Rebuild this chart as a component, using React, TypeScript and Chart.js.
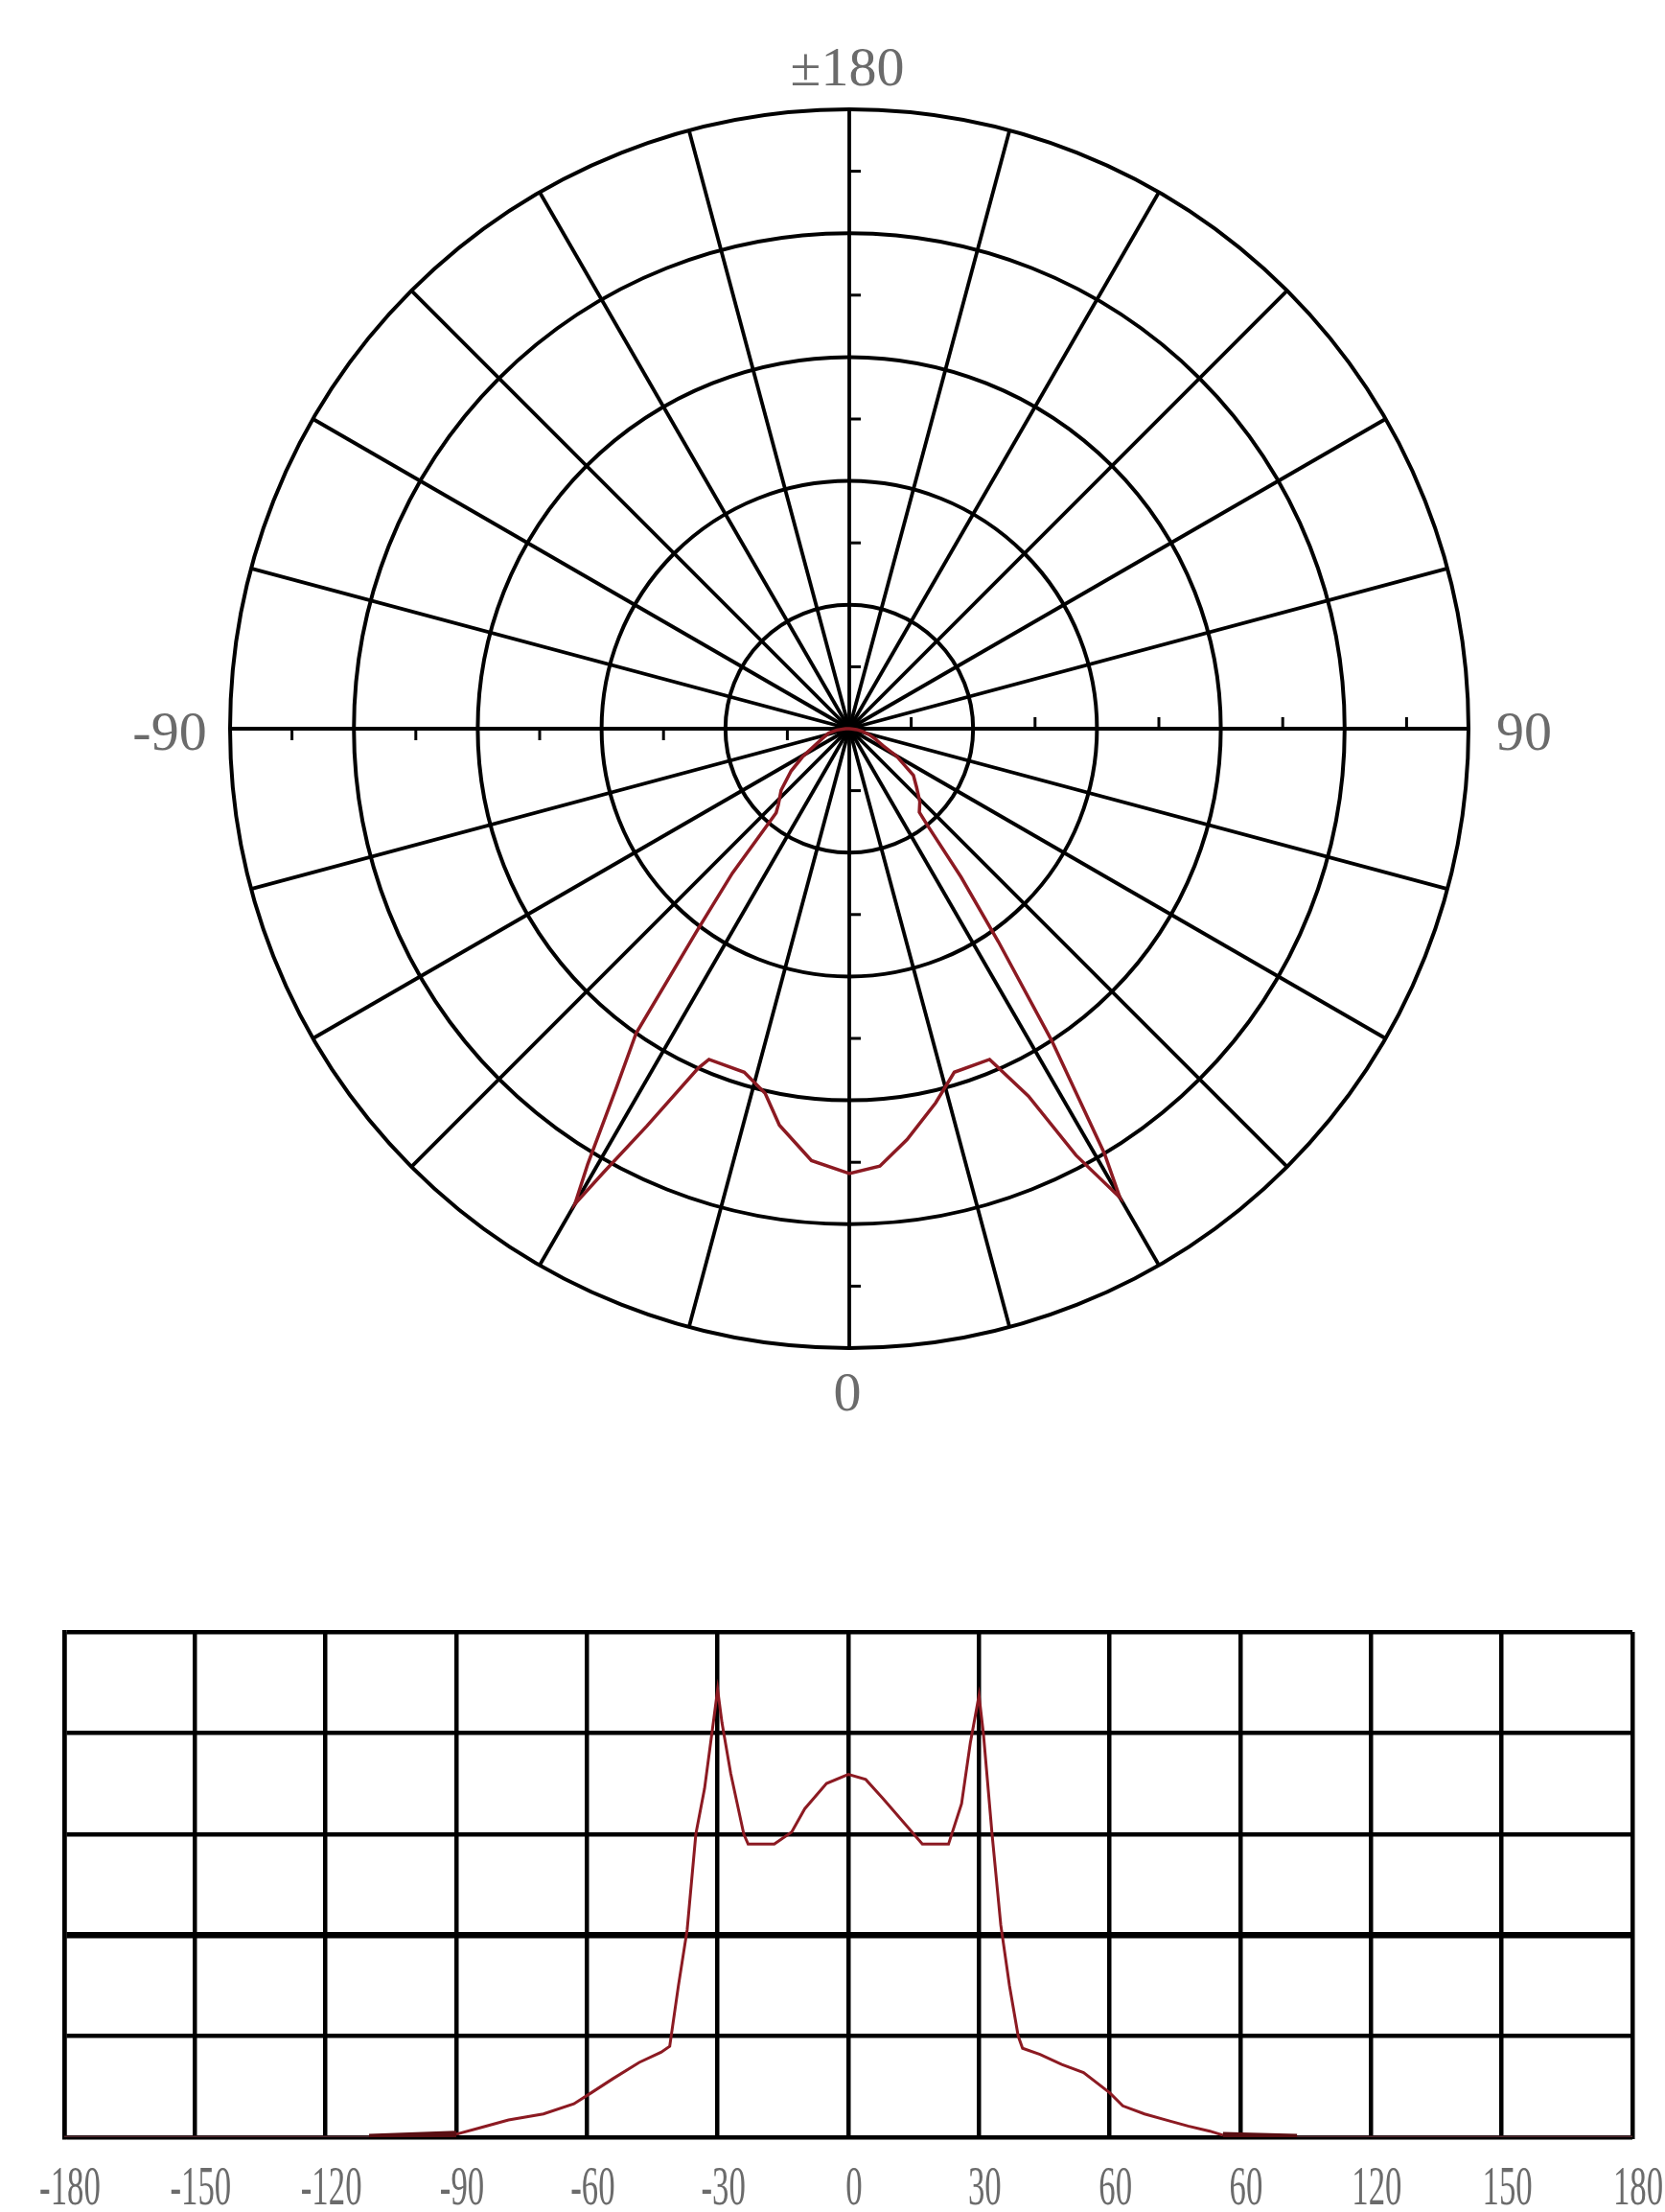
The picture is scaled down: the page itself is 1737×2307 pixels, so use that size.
import React, { useEffect, useRef } from 'react';
import { Chart, registerables } from 'chart.js';

Chart.register(...registerables);

// ---- Data ----
// Angle in degrees (gamma) and relative intensity (grid units)
const ANGLES = [
  -180, -110, -90, -84, -78, -70, -63, -59, -54, -48, -43, -41, -39, -37, -35, -33, -31, -30, -29, -27,
  -24, -23, -17, -13, -10, -5, 0, 4, 8, 13, 17, 23, 26, 28, 30, 31, 33, 35, 37, 39,
  40, 44, 49, 54, 60, 63, 68, 73, 78, 83, 86, 103, 180,
];
const INTENSITY = [
  0, 0, 0.03, 0.1, 0.17, 0.23, 0.33, 0.44, 0.58, 0.74, 0.84, 0.9, 1.5, 2.05, 3.0, 3.45, 4.1, 4.43, 4.1, 3.6,
  3.0, 2.9, 2.9, 3.02, 3.25, 3.5, 3.59, 3.54, 3.35, 3.1, 2.9, 2.9, 3.3, 3.9, 4.37, 4.0, 3.0, 2.1, 1.5, 1.0,
  0.88, 0.82, 0.72, 0.64, 0.44, 0.31, 0.23, 0.17, 0.11, 0.06, 0.02, 0, 0,
];

const X_TICKS = [-180, -150, -120, -90, -60, -30, 0, 30, 60, 90, 120, 150, 180];
const X_TICK_LABELS = ['-180', '-150', '-120', '-90', '-60', '-30', '0', '30', '60', '60', '120', '150', '180'];
const POLAR_TOP = '±180';
const POLAR_BOTTOM = '0';
const POLAR_LEFT = '-90';
const POLAR_RIGHT = '90';
const RING_MAX = 5;
const MINOR_TICKS = [0.5, 1.5, 2.5, 3.5, 4.5];
const SPOKE_STEP = 15;

const CURVE = '#8c1a22';
const CURVE_DARK = '#5a0e12';
const TEXT = '#6b6b6b';
const FONT = '58px "Liberation Serif", "Times New Roman", serif';

// radar slots: one per degree, index i sits i degrees clockwise from the bottom (left = -90)
const RADAR_LABELS = Array.from({ length: 360 }, (_, i) => String(i));
const RADAR_DATA: (number | null)[] = new Array(360).fill(null);
ANGLES.forEach((a, k) => {
  const idx = (((-a) % 360) + 360) % 360;
  RADAR_DATA[idx] = INTENSITY[k];
});

const polarDecor = {
  id: 'polarDecor',
  afterDraw(chart: any) {
    const s = chart.scales.r;
    const ctx = chart.ctx;
    const xc = s.xCenter;
    const yc = s.yCenter;
    const R = s.drawingArea;
    ctx.save();
    ctx.strokeStyle = '#000';
    ctx.lineWidth = 3;
    const seg = (x1: number, y1: number, x2: number, y2: number) => {
      ctx.beginPath();
      ctx.moveTo(x1, y1);
      ctx.lineTo(x2, y2);
      ctx.stroke();
    };
    MINOR_TICKS.forEach((v) => {
      const d = s.getDistanceFromCenterForValue(v);
      seg(xc, yc - d, xc + 12, yc - d);
      seg(xc, yc + d, xc + 12, yc + d);
      seg(xc - d, yc, xc - d, yc + 12);
      seg(xc + d, yc, xc + d, yc - 12);
    });
    ctx.fillStyle = TEXT;
    ctx.font = FONT;
    ctx.textAlign = 'center';
    ctx.textBaseline = 'alphabetic';
    ctx.fillText(POLAR_TOP, xc - 2, yc - R - 25);
    ctx.fillText(POLAR_BOTTOM, xc - 2, yc + R + 65);
    ctx.fillText(POLAR_LEFT, xc - R - 63, yc + 22);
    ctx.fillText(POLAR_RIGHT, xc + R + 58, yc + 22);
    ctx.restore();
  },
};

const xLabelPlugin = {
  id: 'xLabels',
  afterDraw(chart: any) {
    const xs = chart.scales.x;
    const ctx = chart.ctx;
    ctx.save();
    ctx.fillStyle = TEXT;
    ctx.font = FONT;
    ctx.textAlign = 'center';
    ctx.textBaseline = 'alphabetic';
    X_TICKS.forEach((v, i) => {
      const px = xs.getPixelForValue(v);
      ctx.save();
      ctx.translate(px + 6, chart.chartArea.bottom + 70);
      ctx.scale(0.6, 1);
      ctx.fillText(X_TICK_LABELS[i], 0, 0);
      ctx.restore();
    });
    ctx.restore();
  },
};

const isOuterZero = (c: any) => c.p1.parsed.x <= -110 || c.p0.parsed.x >= 103;
const isNearZero = (c: any) => !isOuterZero(c) && c.p0.parsed.y <= 0.03 && c.p1.parsed.y <= 0.03;

function PolarChart() {
  const ref = useRef<HTMLCanvasElement | null>(null);
  useEffect(() => {
    if (!ref.current) return;
    const chart = new Chart(ref.current, {
      type: 'radar',
      data: {
        labels: RADAR_LABELS,
        datasets: [
          {
            data: RADAR_DATA as any,
            spanGaps: true,
            fill: false,
            borderColor: CURVE,
            borderWidth: 3.5,
            pointRadius: 0,
          },
        ],
      },
      options: {
        responsive: false,
        animation: false,
        events: [],
        layout: { padding: { left: 140, right: 140, top: 94, bottom: 94 } },
        plugins: { legend: { display: false }, tooltip: { enabled: false } },
        scales: {
          r: {
            min: 0,
            max: RING_MAX,
            startAngle: 180,
            ticks: { display: false, stepSize: 1 },
            pointLabels: { display: false },
            grid: { circular: true, color: '#000', lineWidth: 4 },
            angleLines: {
              color: '#000',
              lineWidth: (c: any) => (c.index % SPOKE_STEP === 0 ? 3.8 : 0),
            },
          },
        },
      } as any,
      plugins: [polarDecor],
    });
    return () => chart.destroy();
  }, []);
  return (
    <canvas
      ref={ref}
      width={1572}
      height={1480}
      style={{ position: 'absolute', left: 100, top: 20, width: 1572, height: 1480 }}
    />
  );
}

function CartesianChart() {
  const ref = useRef<HTMLCanvasElement | null>(null);
  useEffect(() => {
    if (!ref.current) return;
    const chart = new Chart(ref.current, {
      type: 'line',
      data: {
        datasets: [
          {
            data: ANGLES.map((a, i) => ({ x: a, y: INTENSITY[i] })),
            borderColor: CURVE,
            borderWidth: 3,
            pointRadius: 0,
            tension: 0,
            fill: false,
            segment: {
              borderColor: (c: any) =>
                isOuterZero(c) ? 'rgba(235,120,140,0.35)' : isNearZero(c) ? CURVE_DARK : undefined,
              borderWidth: (c: any) => (isNearZero(c) ? 7 : undefined),
            },
          },
        ],
      },
      options: {
        responsive: false,
        animation: false,
        events: [],
        layout: { padding: { left: 67, right: 34, top: 102, bottom: 78 } },
        plugins: { legend: { display: false }, tooltip: { enabled: false } },
        scales: {
          x: {
            type: 'linear',
            min: -180,
            max: 180,
            ticks: { display: false, stepSize: 30 },
            grid: { color: '#000', lineWidth: 4.5, drawTicks: false },
            border: { color: '#000', width: 4 },
          },
          y: {
            type: 'linear',
            min: 0,
            max: 5,
            ticks: { display: false, stepSize: 1 },
            grid: {
              color: '#000',
              lineWidth: (c: any) => (c.tick && c.tick.value === 2 ? 6.5 : 4.5),
              drawTicks: false,
            },
            border: { color: '#000', width: 4.5 },
          },
        },
      } as any,
      plugins: [xLabelPlugin],
    });
    return () => chart.destroy();
  }, []);
  return (
    <canvas
      ref={ref}
      width={1737}
      height={707}
      style={{ position: 'absolute', left: 0, top: 1600, width: 1737, height: 707 }}
    />
  );
}

export default function App() {
  return (
    <div
      style={{
        position: 'absolute',
        left: 0,
        top: 0,
        width: 1737,
        height: 2307,
        overflow: 'hidden',
        background: '#fff',
      }}
    >
      <PolarChart />
      <CartesianChart />
    </div>
  );
}
